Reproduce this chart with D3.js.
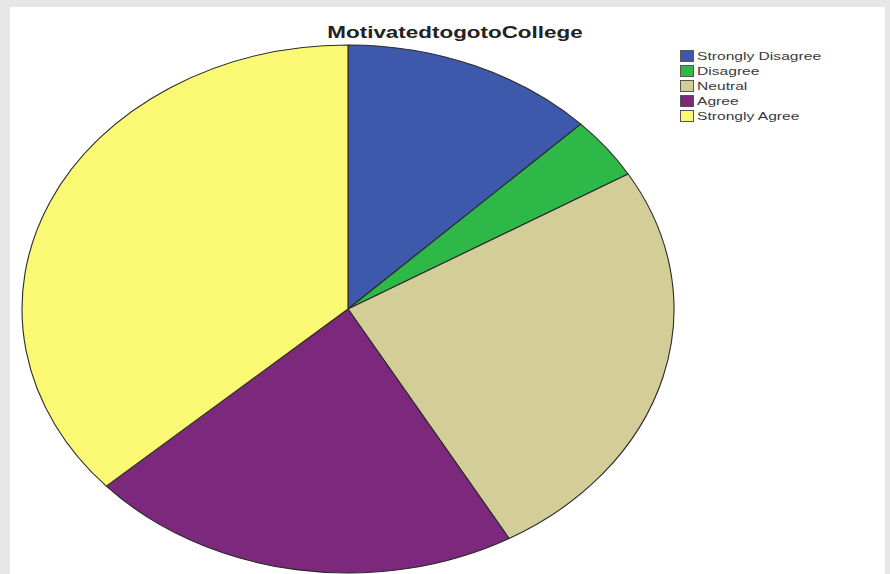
<!DOCTYPE html>
<html>
<head>
<meta charset="utf-8">
<script src="https://cdn.jsdelivr.net/npm/d3@7"></script>
<style>
  html, body { margin: 0; padding: 0; background: #e7e7e7; }
  svg { display: block; }
</style>
</head>
<body>
<svg id="chart" width="890" height="574"></svg>
<script>
// Survey responses: "Motivated to go to College"
const title = "MotivatedtogotoCollege";
const categories = ["Strongly Disagree", "Disagree", "Neutral", "Agree", "Strongly Agree"];
const counts = [10, 3, 20, 17, 29];
const colors = ["#3e58ac", "#2eb848", "#d3ce97", "#7c287d", "#fbf873"];

const svg = d3.select("#chart");

// white plot panel over the grey page
svg.append("rect")
  .attr("x", 10).attr("y", 7)
  .attr("width", 875).attr("height", 567)
  .attr("fill", "#ffffff");

// title
svg.append("g")
  .attr("transform", "translate(455,38) scale(1.32,1)")
  .append("text")
  .attr("text-anchor", "middle")
  .attr("font-family", "Arial, 'Liberation Sans', sans-serif")
  .attr("font-weight", "bold")
  .attr("font-size", 17)
  .attr("fill", "#222")
  .text(title);

// pie, drawn as a circle and stretched horizontally into an ellipse
const ry = 264, rx = 326;
const pie = d3.pie().sort(null).value(d => d.value);
const arc = d3.arc().innerRadius(0).outerRadius(ry);
const data = categories.map((c, i) => ({ name: c, value: counts[i], color: colors[i] }));

const g = svg.append("g")
  .attr("transform", `translate(348,309) scale(${rx / ry},1)`);

g.selectAll("path")
  .data(pie(data))
  .join("path")
  .attr("d", arc)
  .attr("fill", d => d.data.color)
  .attr("stroke", "#2a2a2a")
  .attr("stroke-width", 1.1)
  .attr("vector-effect", "non-scaling-stroke")
  .attr("stroke-linejoin", "round");

// legend
const legend = svg.append("g").attr("transform", "translate(680,50)");
const rows = legend.selectAll("g")
  .data(data)
  .join("g")
  .attr("transform", (d, i) => `translate(0,${i * 15})`);

rows.append("rect")
  .attr("x", 0.5).attr("y", 0.5)
  .attr("width", 13).attr("height", 11)
  .attr("fill", d => d.color)
  .attr("stroke", "#555")
  .attr("stroke-width", 1);

rows.append("g")
  .attr("transform", "translate(17,10) scale(1.42,1)")
  .append("text")
  .attr("font-family", "Arial, 'Liberation Sans', sans-serif")
  .attr("font-size", 11)
  .attr("fill", "#3a3a3a")
  .text(d => d.name);
</script>
</body>
</html>
